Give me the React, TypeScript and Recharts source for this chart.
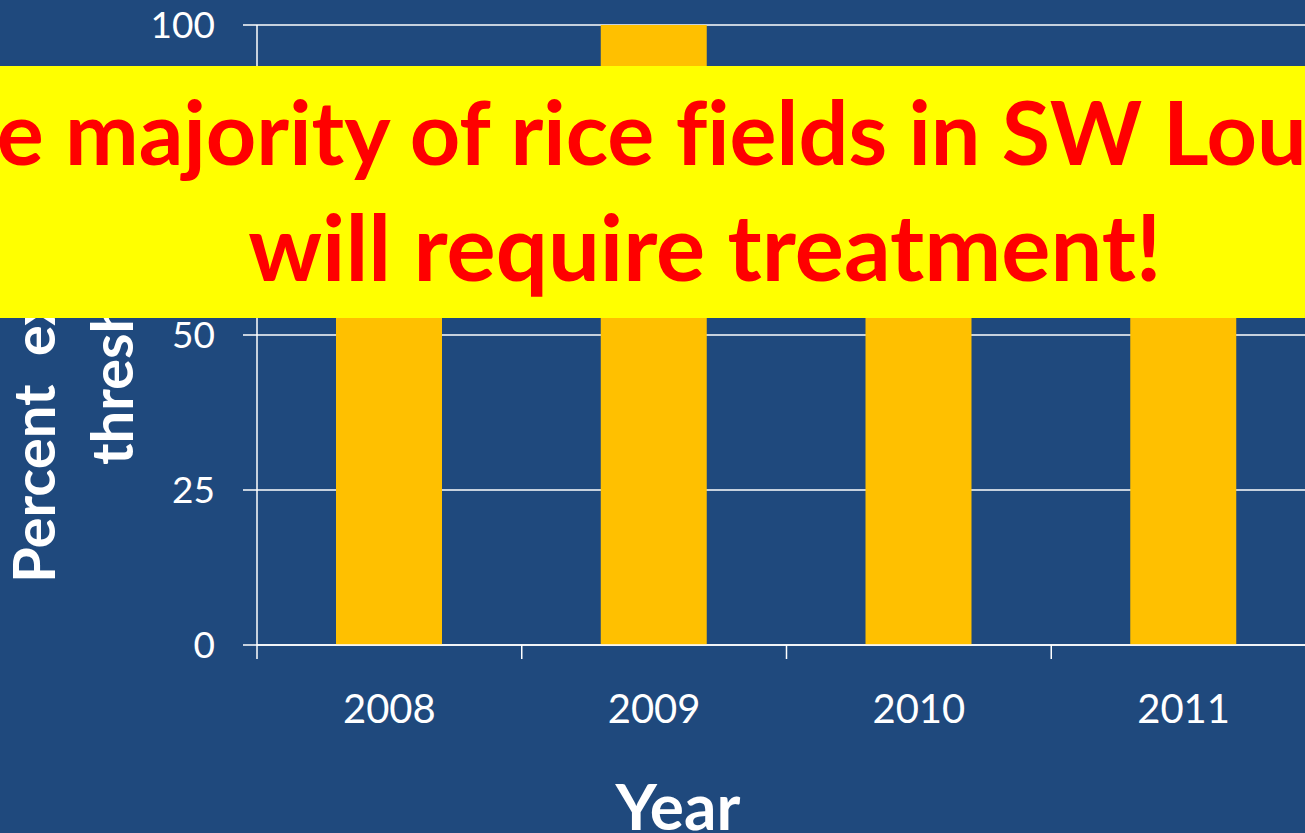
import React from "react";
import { BarChart, Bar, XAxis, YAxis, CartesianGrid } from "recharts";

const years = ["2008", "2009", "2010", "2011"];
const percentExceeding = [85, 100, 72, 78];
const yTicks = [0, 25, 50, 75, 100];
const bannerLine1 = "The majority of rice fields in SW Louisiana";
const bannerLine2 = "will require treatment!";
const yLabelLine1 = "Percent  exceeding";
const yLabelLine2 = "threshold";
const xLabel = "Year";

const data = years.map((y, i) => ({ year: y, value: percentExceeding[i] }));

const BG = "#1F497D";
const FONT = "Lato, 'Open Sans', sans-serif";
const CHART_W = 1400;
const CHART_H = 833;
const MARGIN = { top: 25, right: 84, left: 0, bottom: 0 };
const BAND = (CHART_W - MARGIN.right - 257) / years.length;

const XTick = (props: any) => {
  const { x, y, payload } = props;
  const half = payload && typeof payload.offset === "number" && payload.offset > 0 ? payload.offset : BAND / 2;
  return (
    <g>
      <line x1={x - half} y1={y} x2={x - half} y2={y + 14} stroke="#FFFFFF" strokeWidth={1.5} />
      <text x={x} y={y + 78} textAnchor="middle" fill="#FFFFFF" fontFamily={FONT} fontSize={40}>
        {payload.value}
      </text>
    </g>
  );
};

export default function App() {
  return (
    <div
      style={{
        position: "absolute",
        left: 0,
        top: 0,
        width: 1305,
        height: 833,
        overflow: "hidden",
        background: BG,
      }}
    >
      <BarChart width={CHART_W} height={CHART_H} data={data} margin={MARGIN}>
        <CartesianGrid vertical={false} stroke="#FFFFFF" strokeWidth={1.5} />
        <XAxis
          dataKey="year"
          height={CHART_H - 645}
          axisLine={{ stroke: "#FFFFFF", strokeWidth: 1.5 }}
          tickLine={false}
          tickSize={0}
          tickMargin={0}
          tick={<XTick />}
          interval={0}
        />
        <YAxis
          width={257}
          domain={[0, 100]}
          ticks={yTicks}
          interval={0}
          axisLine={{ stroke: "#FFFFFF", strokeWidth: 1.5 }}
          tickLine={{ stroke: "#FFFFFF", strokeWidth: 1.5 }}
          tickSize={14}
          tickMargin={28}
          tick={{ fill: "#FFFFFF", fontFamily: FONT, fontSize: 37 }}
        />
        <Bar dataKey="value" fill="#FFC000" barSize={106} isAnimationActive={false} />
      </BarChart>
      <svg
        width={1305}
        height={833}
        style={{ position: "absolute", left: 0, top: 0, pointerEvents: "none" }}
      >
        <text
          x={55}
          y={583}
          transform="rotate(-90, 55, 583)"
          textAnchor="start"
          fill="#FFFFFF"
          fontFamily={FONT}
          fontWeight="bold"
          fontSize={58}
          style={{ whiteSpace: "pre" }}
        >
          {yLabelLine1}
        </text>
        <text
          x={133}
          y={465}
          transform="rotate(-90, 133, 465)"
          textAnchor="start"
          fill="#FFFFFF"
          fontFamily={FONT}
          fontWeight="bold"
          fontSize={58}
        >
          {yLabelLine2}
        </text>
        <text
          x={678}
          y={830}
          textAnchor="middle"
          fill="#FFFFFF"
          fontFamily={FONT}
          fontWeight="bold"
          fontSize={64}
        >
          {xLabel}
        </text>
        <rect x={0} y={66} width={1305} height={252} fill="#FFFF00" />
        <text
          x={712}
          y={165}
          textAnchor="middle"
          fill="#FF0000"
          fontFamily={FONT}
          fontWeight="bold"
          fontSize={88}
          style={{ fontVariantLigatures: "none" }}
        >
          {bannerLine1}
        </text>
        <text
          x={705}
          y={281}
          textAnchor="middle"
          fill="#FF0000"
          fontFamily={FONT}
          fontWeight="bold"
          fontSize={92}
          style={{ fontVariantLigatures: "none" }}
        >
          {bannerLine2}
        </text>
      </svg>
    </div>
  );
}
